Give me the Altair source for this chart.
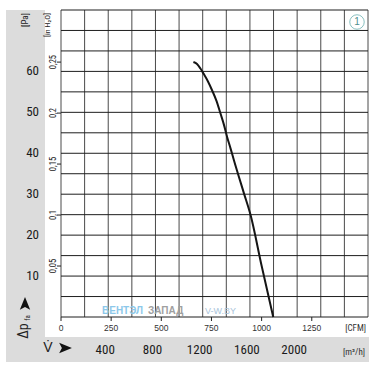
import altair as alt
import pandas as pd

# ---- data ----
curve_cfm = [660, 678, 695, 711, 732, 753, 775, 795, 812, 828, 845, 862, 912, 945, 1000, 1058]
curve_pa = [62.3, 61.8, 60.7, 59.4, 57.6, 55.4, 52.8, 49.7, 47.0, 44.0, 41.2, 38.3, 30.2, 24.9, 12.5, 0.0]

pa_ticks = [10, 20, 30, 40, 50, 60]
inh2o_ticks = [0.05, 0.1, 0.15, 0.2, 0.25]
inh2o_labels = ["0,05", "0,1", "0,15", "0,2", "0,25"]
cfm_ticks = [0, 250, 500, 750, 1000, 1250]
m3h_ticks = [400, 800, 1200, 1600, 2000]
grid_m3h = list(range(0, 2601, 200))
grid_pa = list(range(0, 76, 5))

CFM_TO_M3H = 1.69901
PA_PER_INH2O = 249.089

NARROW = "Liberation Sans Narrow, Arial Narrow, Roboto Condensed, Liberation Sans, sans-serif"
REG = "Liberation Sans, Arial, sans-serif"

curve_df = pd.DataFrame({"x": [c * CFM_TO_M3H for c in curve_cfm], "y": curve_pa})
pa_df = pd.DataFrame({"y": pa_ticks, "t": [str(v) for v in pa_ticks]})
inh_df = pd.DataFrame({"y": [v * PA_PER_INH2O for v in inh2o_ticks], "t": inh2o_labels})
cfm_df = pd.DataFrame({"x": [c * CFM_TO_M3H for c in cfm_ticks], "t": [str(v) for v in cfm_ticks]})
m3h_df = pd.DataFrame({"x": m3h_ticks, "t": [str(v) for v in m3h_ticks]})
gx_df = pd.DataFrame({"x": grid_m3h})
gy_df = pd.DataFrame({"y": grid_pa})
one = pd.DataFrame({"a": [0]})

XS = alt.Scale(domain=[0, 2600], nice=False, zero=False)
YS = alt.Scale(domain=[0, 75], nice=False, zero=False)
X = alt.X("x:Q", scale=XS, axis=None)
Y = alt.Y("y:Q", scale=YS, axis=None)

GRAY = "#dcdcdc"
# gray panels
bg_left = alt.Chart(one).mark_rect(color=GRAY).encode(
    x=alt.value(-55), x2=alt.value(-16), y=alt.value(0), y2=alt.value(327))
bg_bottom = alt.Chart(one).mark_rect(color=GRAY).encode(
    x=alt.value(-55), x2=alt.value(308), y=alt.value(327), y2=alt.value(352))

# grid
vgrid = alt.Chart(gx_df).mark_rule(color="#4a4a4a", strokeWidth=1).encode(x=X)
hgrid = alt.Chart(gy_df).mark_rule(color="#1e1e1e", strokeWidth=1).encode(y=Y)

# curve
curve = alt.Chart(curve_df).mark_line(color="#151515", strokeWidth=2, interpolate="monotone").encode(x=X, y=Y)

# Pa labels
pa_text = alt.Chart(pa_df).mark_text(align="right", baseline="middle", font=NARROW, fontSize=13, color="#1a1a1a").encode(
    x=alt.value(-22), y=Y, text="t:N")

# in H2O labels and ticks
inh_text = alt.Chart(inh_df).mark_text(align="center", baseline="middle", angle=270, font=NARROW, fontSize=8.5, color="#222").encode(
    x=alt.value(-8), y=Y, text="t:N")
inh_tick = alt.Chart(inh_df).mark_rule(color="#222").encode(x=alt.value(-4), x2=alt.value(0), y=Y)

# CFM ticks and labels
cfm_tick = alt.Chart(cfm_df).mark_rule(color="#222").encode(x=X, y=alt.value(307), y2=alt.value(311))
cfm_text = alt.Chart(cfm_df).mark_text(align="center", baseline="middle", font=REG, fontSize=8.5, color="#333").encode(
    x=X, y=alt.value(318), text="t:N")

# m3/h labels
m3h_text = alt.Chart(m3h_df).mark_text(align="center", baseline="middle", font=NARROW, fontSize=13, color="#1a1a1a", dx=-3).encode(
    x=X, y=alt.value(340), text="t:N")

def label(txt, x, y, size, font=NARROW, angle=0, align="center", color="#222", weight="normal"):
    kw = dict(align=align, baseline="middle", font=font, fontSize=size, color=color, fontWeight=weight, text=txt)
    if angle:
        kw["angle"] = angle
    return alt.Chart(one).mark_text(**kw).encode(x=alt.value(x), y=alt.value(y))

ARROW = "M0,-1L0.75,0.85L0,0.45L-0.75,0.85Z"

def arrow(x, y, angle):
    return alt.Chart(one).mark_point(shape=ARROW, size=190, filled=True, color="#111", angle=angle, strokeWidth=0,
                                     opacity=1).encode(x=alt.value(x), y=alt.value(y))

texts = [
    label("[Pa]", -36, 10, 9, angle=270),
    label("[in H₂O]", -13, 15, 8, angle=270),
    label("[CFM]", 305, 318, 9, align="right", color="#333"),
    label("[m³/h]", 304, 342, 9, align="right", color="#333"),
    label("Δp", -37, 321, 14, angle=270),
    label("fa", -33, 308, 7, angle=270),
    label("V̇", -13, 338, 14),
    label("ВЕНТЭЛ", 41, 301, 10, font=REG, align="left", color="#8cc8ea", weight="bold"),
    label("ЗАПАД", 87, 301, 10, font=REG, align="left", color="#a0a0a0", weight="bold"),
    label("V-W.BY", 144, 301, 9, font=REG, align="left", color="#a9c4da"),
    label("1", 296, 12, 10, font=REG, color="#4f8f8f"),
]

arrows = [arrow(-36, 294, 0), arrow(4, 338, 90)]

circle = alt.Chart(one).mark_point(shape="circle", size=210, filled=False, color="#5aa8a8", strokeWidth=1).encode(
    x=alt.value(296), y=alt.value(12))

chart = alt.layer(
    bg_left, bg_bottom, vgrid, hgrid, curve, pa_text, inh_text, inh_tick, cfm_tick, cfm_text, m3h_text,
    circle, *arrows, *texts
).properties(
    width=307, height=307,
    autosize=alt.AutoSizeParams(type="none"),
    padding={"left": 61, "top": 10, "right": 17, "bottom": 56},
    background="white",
).configure_view(stroke=None)

chart.save("out.html", embed_options={"renderer": "svg", "actions": False})
